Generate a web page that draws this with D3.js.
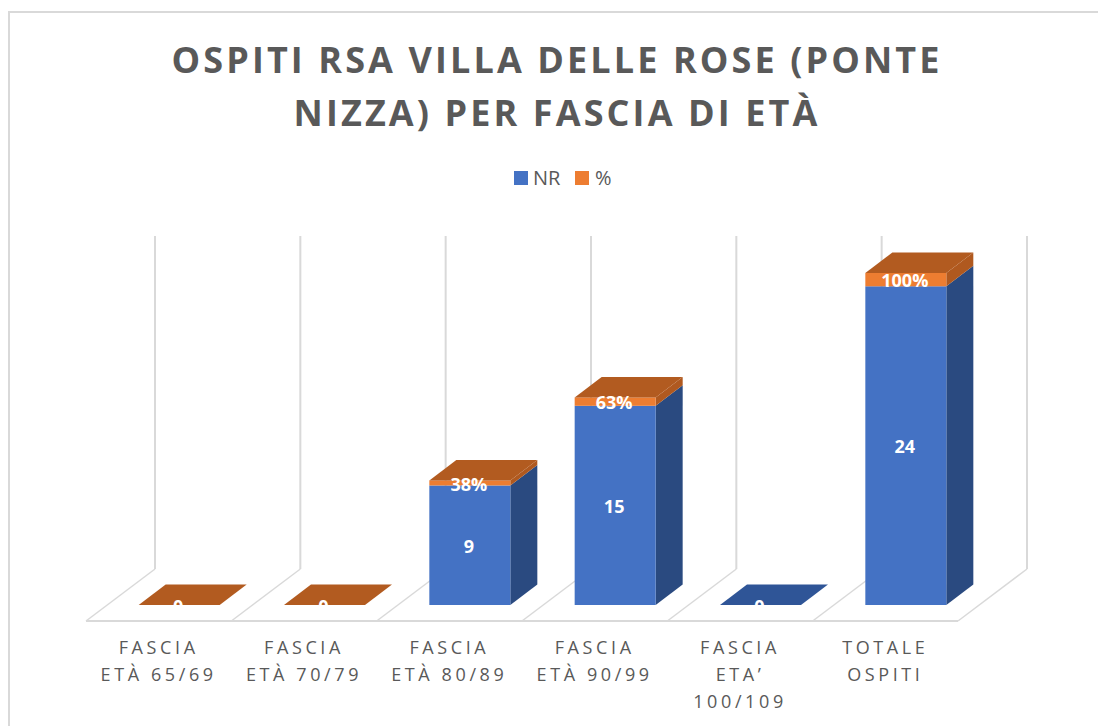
<!DOCTYPE html>
<html><head><meta charset="utf-8">
<style>html,body{margin:0;padding:0;background:#fff}svg{display:block}</style>
<script src="https://cdn.jsdelivr.net/npm/d3@7/dist/d3.min.js"></script>
</head><body><div id="c"></div>
<script>
const categories = [["FASCIA","ETÀ 65/69"],["FASCIA","ETÀ 70/79"],["FASCIA","ETÀ 80/89"],["FASCIA","ETÀ 90/99"],["FASCIA","ETA’","100/109"],["TOTALE","OSPITI"]];
const nrValues = [0,0,9,15,0,24];
const pctValues = [0,0,0.38,0.63,null,1];
const pctLabels = ["","","38%","63%","","100%"];
const titleLines = ["OSPITI RSA VILLA DELLE ROSE (PONTE","NIZZA) PER FASCIA DI ETÀ"];
const seriesNames = ["NR","%"];

const W=1098,H=726;
const font="'Open Sans', sans-serif";
const svg=d3.select("#c").append("svg").attr("width",W).attr("height",H);
const x=d3.scaleBand().domain(d3.range(categories.length)).range([86,958]).paddingInner(0).paddingOuter(0);
const y=d3.scaleLinear().domain([0,25]).range([605,273]);
const floorDx=69,floorDy=-52,barDx=27,barDy=-20.5,barW=81;
const wallGrey="#d9d9d9";
const barX=i=>x(i)+(x.bandwidth()-barW)/2+20.5;

// chart frame: only top and left edges are visible in the picture
svg.append("path").attr("d",`M9,${H}V12H${W}`).attr("fill","none").attr("stroke","#d9d9d9").attr("stroke-width",2);

// walls & floor
const wallBottom=621+floorDy, wallTop=236;
const g=svg.append("g").attr("fill","none").attr("stroke",wallGrey);
d3.range(categories.length+1).forEach(i=>{
  const fx=i<categories.length?x(i):x(i-1)+x.bandwidth();
  g.append("line").attr("x1",fx+floorDx).attr("x2",fx+floorDx).attr("y1",wallBottom).attr("y2",wallTop).attr("stroke-width",2);
  g.append("line").attr("x1",fx).attr("x2",fx+floorDx).attr("y1",621).attr("y2",wallBottom).attr("stroke-width",1.5);
});
g.append("line").attr("x1",86).attr("x2",958).attr("y1",621).attr("y2",621).attr("stroke-width",2);

// bars
const C={blue:"#4472c4",blueSide:"#2a4a80",blueTop:"#2f5597",orange:"#ed7d31",orangeSide:"#b0591f",orangeTop:"#b25b20"};
const poly=(pts,fill)=>svg.append("polygon").attr("points",pts.map(p=>p.join(",")).join(" ")).attr("fill",fill);
categories.forEach((c,i)=>{
  const bx=barX(i),v=nrValues[i],p=pctValues[i]||0;
  const y0=y(0),y1=y(v),y2=y(v+p);
  if(v>0){
    poly([[bx+barW,y0],[bx+barW+barDx,y0+barDy],[bx+barW+barDx,y1+barDy],[bx+barW,y1]],C.blueSide);
    svg.append("rect").attr("x",bx).attr("y",y1).attr("width",barW).attr("height",y0-y1).attr("fill",C.blue);
  }
  if(pctValues[i]>0){
    poly([[bx+barW,y1],[bx+barW+barDx,y1+barDy],[bx+barW+barDx,y2+barDy],[bx+barW,y2]],C.orangeSide);
    svg.append("rect").attr("x",bx).attr("y",y2).attr("width",barW).attr("height",y1-y2).attr("fill",C.orange);
  }
  const topFill=pctValues[i]===null?C.blueTop:C.orangeTop;
  poly([[bx,y2],[bx+barDx,y2+barDy],[bx+barW+barDx,y2+barDy],[bx+barW,y2]],topFill);
});

// data labels
const defs=svg.append("defs");
defs.append("clipPath").attr("id","base").append("rect").attr("x",0).attr("y",0).attr("width",W).attr("height",y(0));
const lab=svg.append("g").attr("clip-path","url(#base)").attr("font-family",font).attr("font-weight",700).attr("font-size",18).attr("fill","#fff").attr("text-anchor","middle");
categories.forEach((c,i)=>{
  const cx=barX(i)+barW/2-1,v=nrValues[i],p=pctValues[i]||0;
  lab.append("text").attr("x",cx).attr("y",(y(0)+y(v))/2+1.5).attr("dy","0.35em").text(v);
  if(pctLabels[i]) lab.append("text").attr("x",cx).attr("y",(y(v)+y(v+p))/2+1.5).attr("dy","0.35em").text(pctLabels[i]);
});

// category labels
const ax=svg.append("g").attr("font-family",font).attr("font-size",18).attr("fill","#595959").attr("text-anchor","middle").attr("letter-spacing",3.6);
categories.forEach((c,i)=>{
  c.forEach((t,k)=>ax.append("text").attr("x",x(i)+x.bandwidth()/2).attr("y",654+k*27).text(t));
});

// title
svg.append("g").attr("font-family",font).attr("font-weight",700).attr("font-size",36).attr("fill","#595959").attr("text-anchor","middle").attr("letter-spacing",3.1)
  .selectAll("text").data(titleLines).join("text").attr("x",557).attr("y",(d,i)=>73+i*53).text(d=>d);

// legend
const lg=svg.append("g").attr("font-family",font).attr("font-size",20).attr("fill","#595959");
lg.append("rect").attr("x",514).attr("y",171).attr("width",14).attr("height",14).attr("fill",C.blue);
lg.append("text").attr("x",533).attr("y",185).text(seriesNames[0]);
lg.append("rect").attr("x",575).attr("y",171).attr("width",14).attr("height",14).attr("fill",C.orange);
lg.append("text").attr("x",595).attr("y",185).text(seriesNames[1]);
</script></body></html>
